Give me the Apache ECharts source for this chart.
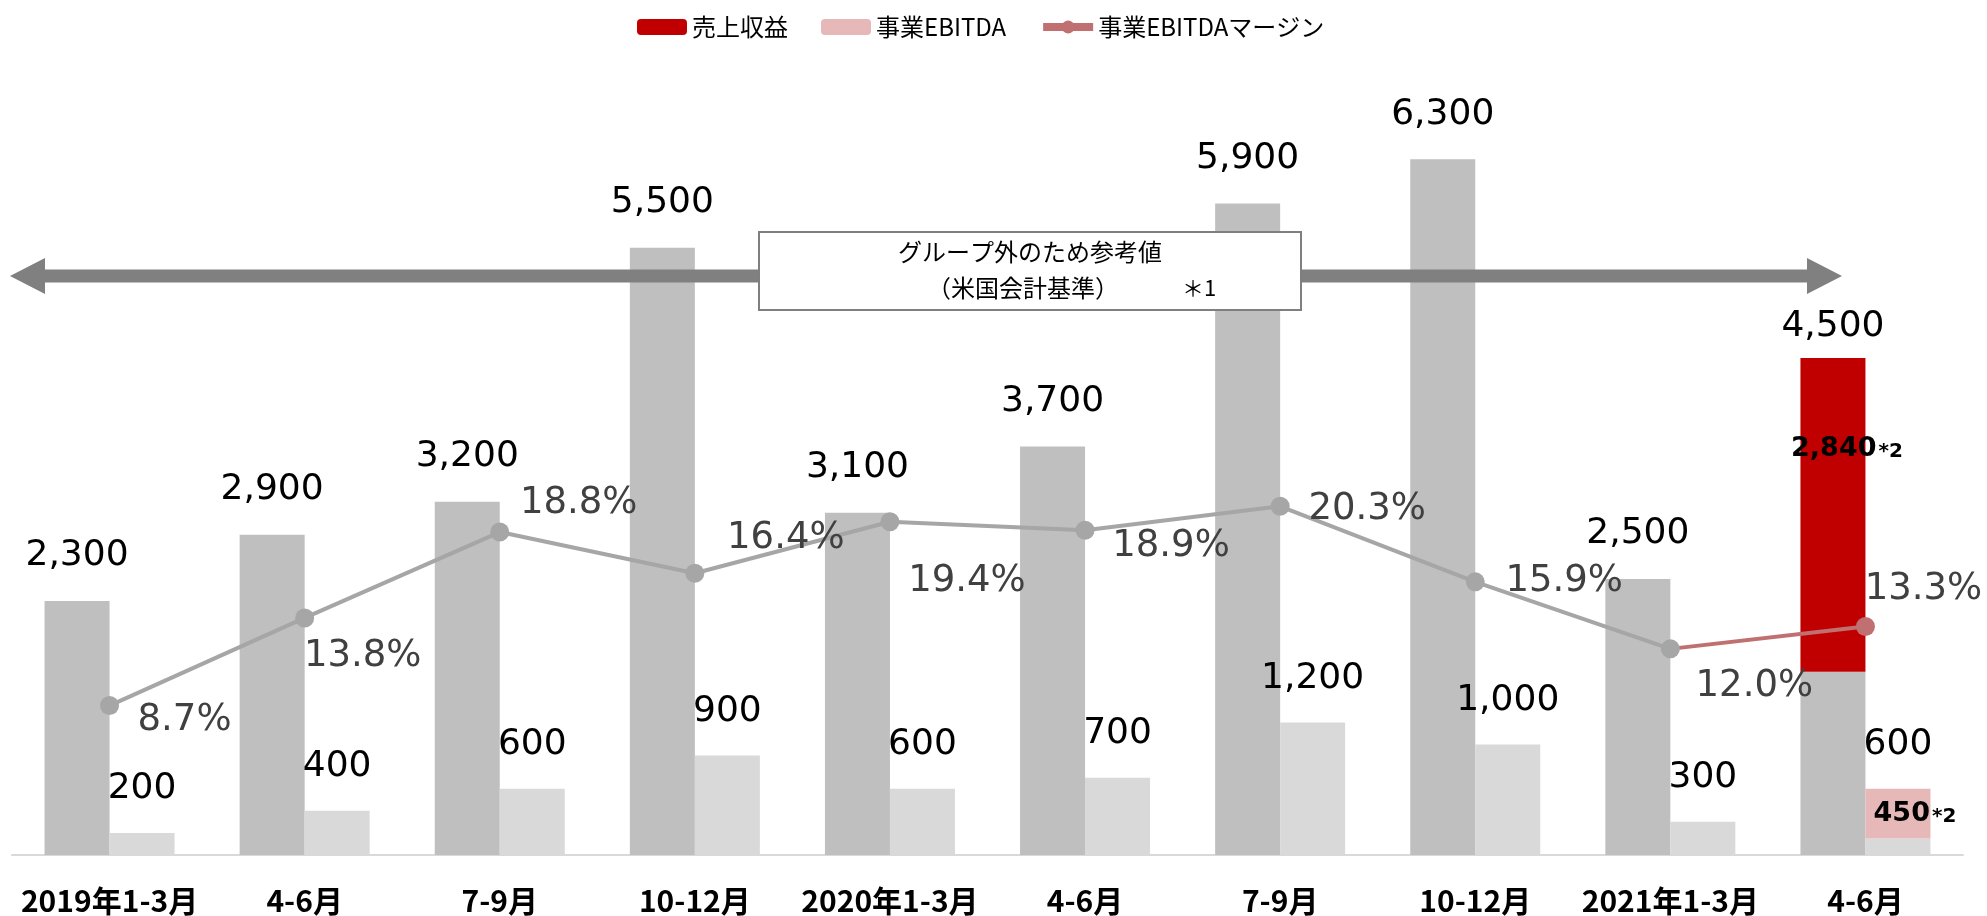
<!DOCTYPE html>
<html>
<head>
<meta charset="utf-8">
<script src="https://cdn.jsdelivr.net/npm/echarts@6/dist/echarts.min.js"></script>
<style>
  html, body { margin: 0; padding: 0; background: #fff; }
  #chart { width: 1987px; height: 916px; }
</style>
</head>
<body>
<div id="chart"></div>
<script>
// 四半期
var categories = ['2019年1-3月', '4-6月', '7-9月', '10-12月', '2020年1-3月', '4-6月', '7-9月', '10-12月', '2021年1-3月', '4-6月']
// 売上収益（合計）とグループ内分
var revenue = [2300, 2900, 3200, 5500, 3100, 3700, 5900, 6300, 2500, 4500]
var revenueGroup = [null, null, null, null, null, null, null, null, null, 2840]
// 事業EBITDA（合計）とグループ内分
var ebitda = [200, 400, 600, 900, 600, 700, 1200, 1000, 300, 600]
var ebitdaGroup = [null, null, null, null, null, null, null, null, null, 450]
// 事業EBITDAマージン（%）
var margin = [8.7, 13.8, 18.8, 16.4, 19.4, 18.9, 20.3, 15.9, 12.0, 13.3]

// ラベル位置の微調整（px）
var marginLabelOffsets = [[75, 15], [58, 38], [79, -29], [91, -35], [77, 60], [86, 16], [87, 3], [89, 0], [84, 38], [58, -37]]

function fmt(v) {
  return Number(v).toLocaleString('en-US')
}

var chart = echarts.init(document.getElementById('chart'))

var lastIdx = categories.length - 1
var revBase = revenue.map(function (v, i) { return v - (revenueGroup[i] || 0) })
var ebBase = ebitda.map(function (v, i) { return v - (ebitdaGroup[i] || 0) })
var zeros = categories.map(function () { return 0 })

var grayMargin = margin.map(function (v, i) {
  if (i > lastIdx - 1) return null
  return {
    value: v,
    label: { offset: marginLabelOffsets[i] }
  }
})
var redMargin = margin.map(function (v, i) {
  if (i < lastIdx - 1) return null
  if (i === lastIdx - 1) return { value: v, symbol: 'none', label: { show: false } }
  return { value: v, label: { offset: marginLabelOffsets[i] } }
})

var numFont = 'DejaVu Sans'
var jpFont = '"Noto Sans CJK JP"'

var starRich = {
  a: { fontFamily: numFont, fontWeight: 'bold', fontSize: 27, color: '#000' },
  b: { fontFamily: numFont, fontWeight: 'bold', fontSize: 20, color: '#000', padding: [6, 0, 0, 2] }
}

var option = {
  animation: false,
  backgroundColor: '#fff',
  legend: {
    data: ['売上収益', '事業EBITDA', {
      name: '事業EBITDAマージン',
      lineStyle: { width: 8 }
    }],
    left: 632,
    top: 10,
    itemWidth: 50,
    itemHeight: 16,
    itemGap: 33,
    textStyle: {
      fontFamily: jpFont,
      fontSize: 24,
      color: '#000'
    }
  },
  grid: {
    left: 12,
    right: 24,
    top: 82,
    bottom: 60
  },
  xAxis: [{
    type: 'category',
    data: categories,
    axisTick: { show: false },
    axisLine: {
      lineStyle: { color: '#D9D9D9', width: 2 }
    },
    axisLabel: {
      interval: 0,
      margin: 31,
      fontFamily: jpFont,
      fontWeight: 'bold',
      fontSize: 30,
      color: '#000'
    }
  }],
  yAxis: [{
    type: 'value',
    min: 0,
    max: 7000,
    show: false,
    splitLine: { show: false }
  }, {
    type: 'value',
    min: 0,
    max: 45,
    show: false,
    splitLine: { show: false }
  }],
  series: [{
    name: '売上収益(外)',
    type: 'bar',
    stack: 'rev',
    barWidth: 65,
    barGap: '0%',
    itemStyle: { color: '#BFBFBF' },
    data: revBase
  }, {
    name: '売上収益',
    type: 'bar',
    stack: 'rev',
    itemStyle: { color: '#C00000' },
    label: {
      show: true,
      position: 'inside',
      offset: [14, -66],
      formatter: function (p) {
        return '{a|' + fmt(p.value) + '}{b|*2}'
      },
      rich: starRich
    },
    data: revenueGroup
  }, {
    name: '売上収益ラベル',
    type: 'bar',
    stack: 'rev',
    itemStyle: { color: 'transparent' },
    label: {
      show: true,
      position: 'top',
      distance: 27,
      fontFamily: numFont,
      fontSize: 36,
      color: '#000',
      formatter: function (p) { return fmt(revenue[p.dataIndex]) }
    },
    data: zeros.map(function (v, i) {
      return i === lastIdx ? { value: v, label: { distance: 13 } } : v
    })
  }, {
    name: '事業EBITDA(外)',
    type: 'bar',
    stack: 'eb',
    barWidth: 65,
    itemStyle: { color: '#D9D9D9' },
    data: ebBase
  }, {
    name: '事業EBITDA',
    type: 'bar',
    stack: 'eb',
    itemStyle: { color: '#E6B9B8' },
    label: {
      show: true,
      position: 'inside',
      offset: [17, 0],
      formatter: function (p) {
        return '{a|' + fmt(p.value) + '}{b|*2}'
      },
      rich: starRich
    },
    data: ebitdaGroup
  }, {
    name: '事業EBITDAラベル',
    type: 'bar',
    stack: 'eb',
    itemStyle: { color: 'transparent' },
    label: {
      show: true,
      position: 'top',
      distance: 26,
      fontFamily: numFont,
      fontSize: 36,
      color: '#000',
      formatter: function (p) { return fmt(ebitda[p.dataIndex]) }
    },
    data: zeros
  }, {
    name: '事業EBITDAマージン',
    type: 'line',
    yAxisIndex: 1,
    symbol: 'circle',
    symbolSize: 19,
    z: 5,
    lineStyle: { color: '#C07070', width: 4 },
    itemStyle: { color: '#C07070' },
    label: {
      show: true,
      position: 'inside',
      fontFamily: numFont,
      fontSize: 37,
      color: '#404040',
      formatter: function (p) { return p.value.toFixed(1) + '%' }
    },
    data: redMargin
  }, {
    name: 'マージン(外)',
    type: 'line',
    yAxisIndex: 1,
    symbol: 'circle',
    symbolSize: 19,
    z: 6,
    lineStyle: { color: '#A6A6A6', width: 4 },
    itemStyle: { color: '#A6A6A6' },
    label: {
      show: true,
      position: 'inside',
      fontFamily: numFont,
      fontSize: 37,
      color: '#404040',
      formatter: function (p) { return p.value.toFixed(1) + '%' }
    },
    data: grayMargin
  }],
  graphic: [{
    type: 'polygon',
    z: 100,
    shape: {
      points: [[10, 276], [45, 258], [45, 269.5], [1807, 269.5], [1807, 258], [1842, 276], [1807, 294], [1807, 282.5], [45, 282.5], [45, 294]]
    },
    style: { fill: '#808080' }
  }, {
    type: 'rect',
    z: 101,
    shape: { x: 759, y: 232, width: 542, height: 78 },
    style: { fill: '#fff', stroke: '#7F7F7F', lineWidth: 2 }
  }, {
    type: 'text',
    z: 102,
    x: 1030,
    y: 252,
    style: {
      text: 'グループ外のため参考値',
      fontFamily: jpFont,
      fontSize: 24,
      fill: '#000',
      align: 'center',
      verticalAlign: 'middle'
    }
  }, {
    type: 'text',
    z: 102,
    x: 1023,
    y: 288,
    style: {
      text: '（米国会計基準）',
      fontFamily: jpFont,
      fontSize: 24,
      fill: '#000',
      align: 'center',
      verticalAlign: 'middle'
    }
  }, {
    type: 'text',
    z: 102,
    x: 1199,
    y: 288,
    style: {
      text: '＊1',
      fontFamily: jpFont,
      fontSize: 22,
      fill: '#000',
      align: 'center',
      verticalAlign: 'middle'
    }
  }]
}

chart.setOption(option)
</script>
</body>
</html>
